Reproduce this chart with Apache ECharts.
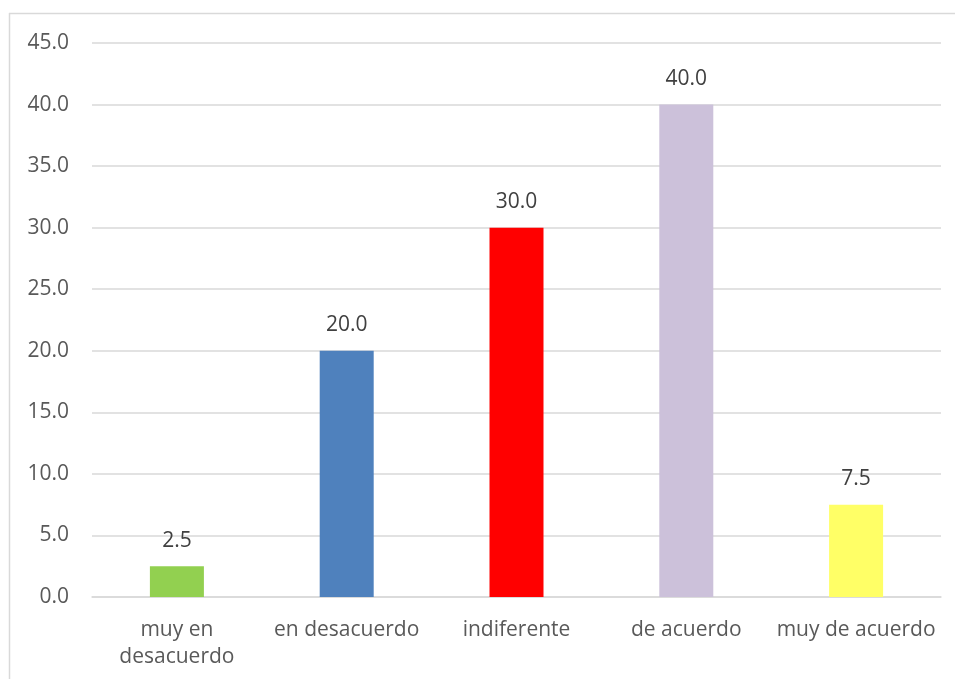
<!DOCTYPE html>
<html>
<head>
<meta charset="utf-8">
<script src="https://cdn.jsdelivr.net/npm/echarts@6/dist/echarts.min.js"></script>
<style>html,body{margin:0;padding:0;background:#fff;}#c{width:955px;height:679px;}</style>
</head>
<body>
<div id="c"></div>
<script>
var categories = ['muy en\ndesacuerdo', 'en desacuerdo', 'indiferente', 'de acuerdo', 'muy de acuerdo'];
var values = [2.5, 20.0, 30.0, 40.0, 7.5];
var colors = ['#92D050', '#4F81BD', '#FF0000', '#CCC1DA', '#FFFF66'];
var yTicks = {min: 0, max: 45, interval: 5};

var FONT = 'Open Sans, Noto Sans, sans-serif';
var chart = echarts.init(document.getElementById('c'));
chart.setOption({
  animation: false,
  graphic: [
    {type: 'line', silent: true, shape: {x1: 9, y1: 13.5, x2: 955, y2: 13.5}, style: {stroke: '#d9d9d9', lineWidth: 1.5}},
    {type: 'line', silent: true, shape: {x1: 9.5, y1: 13, x2: 9.5, y2: 679}, style: {stroke: '#d9d9d9', lineWidth: 1.5}}
  ],
  grid: {left: 92, right: 14, top: 43, bottom: 82, containLabel: false},
  xAxis: {
    type: 'category',
    data: categories,
    axisLine: {show: true, lineStyle: {color: '#d9d9d9', width: 1.5}},
    axisTick: {show: false},
    axisLabel: {color: '#595959', fontSize: 21, fontFamily: FONT, margin: 20, lineHeight: 27, interval: 0}
  },
  yAxis: {
    type: 'value',
    min: yTicks.min, max: yTicks.max, interval: yTicks.interval,
    axisLine: {show: false},
    axisTick: {show: false},
    splitLine: {lineStyle: {color: '#d9d9d9', width: 1.5}},
    axisLabel: {color: '#595959', fontSize: 21, fontFamily: FONT, margin: 23,
      formatter: function (v) { return v.toFixed(1); }}
  },
  series: [{
    type: 'bar',
    barWidth: 54,
    data: values.map(function (v, i) { return {value: v, itemStyle: {color: colors[i]}}; }),
    label: {
      show: true, position: 'top', distance: 15,
      color: '#404040', fontSize: 21, fontFamily: FONT,
      formatter: function (p) { return p.value.toFixed(1); }
    }
  }]
});
</script>
</body>
</html>
